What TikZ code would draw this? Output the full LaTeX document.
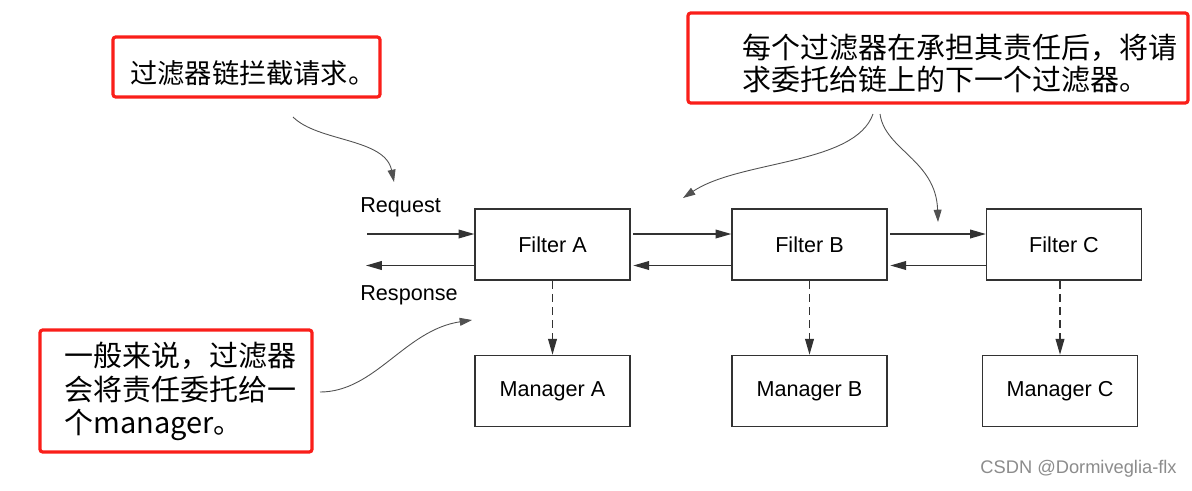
\documentclass[tikz,border=0pt]{standalone}
\usepackage{fontspec}
\setmainfont{Liberation Sans}
\newfontfamily\cjk{Noto Sans CJK SC}
\usetikzlibrary{arrows.meta, positioning}

\definecolor{notered}{RGB}{250,30,25}
\definecolor{boxgray}{RGB}{50,50,50}

\tikzset{
	filterbox/.style={draw=boxgray, line width=0.8pt, minimum width=3.1cm, minimum height=1.42cm, font=\fontsize{12.3pt}{14pt}\selectfont},
	notebox/.style={draw=notered, line width=1.8pt, rounded corners=1.5pt},
	notetext/.style={anchor=west, align=left, inner sep=0pt},
	flow/.style={line width=0.7pt, draw=boxgray, -{Triangle[length=9pt,width=5pt]}},
	delegate/.style={flow, dash pattern=on 4.5pt off 3pt},
	remark/.style={line width=0.5pt, draw=boxgray!85, -{Triangle[length=7pt,width=4.5pt]}},
}

\begin{document}
\begin{tikzpicture}[x=0.02cm, y=-0.02cm]
	\fill[white] (0,0) rectangle (1192,490);
	\useasboundingbox (0,0) rectangle (1192,490);

	% filters and managers
	\node[filterbox] (fa) at (552.5,244.5) {Filter A};
	\node[filterbox] (fb) at (809.5,244.5) {Filter B};
	\node[filterbox] (fc) at (1064,244.5) {Filter C};
	\node[filterbox, below=1.48cm of fa] (ma) {Manager A};
	\node[filterbox, below=1.48cm of fb] (mb) {Manager B};
	\node[filterbox, below=1.48cm of fc, xshift=-0.08cm] (mc) {Manager C};

	% request / response
	\node[anchor=base west, inner sep=0pt, font=\fontsize{12.3pt}{14pt}\selectfont] (reqlabel) at (360,212) {Request};
	\node[anchor=base west, inner sep=0pt, font=\fontsize{12.3pt}{14pt}\selectfont] (reslabel) at (360,300) {Response};
	\coordinate (reqin) at (367,234);
	\coordinate (resout) at (366,265.5);
	\draw[flow] (reqin) -- (reqin -| fa.west);
	\draw[flow] (resout -| fa.west) -- (resout);

	\draw[flow, shorten <=1.5pt] ([yshift=0.21cm]fa.east) -- ([yshift=0.21cm]fb.west);
	\draw[flow, shorten >=1.5pt] ([yshift=-0.42cm]fb.west) -- ([yshift=-0.42cm]fa.east);
	\draw[flow, shorten <=1.5pt] ([yshift=0.21cm]fb.east) -- ([yshift=0.21cm]fc.west);
	\draw[flow, shorten >=1.5pt] ([yshift=-0.42cm]fc.west) -- ([yshift=-0.42cm]fb.east);

	\draw[delegate] (fa.south -| ma.north) -- (ma.north);
	\draw[delegate] (fb.south -| mb.north) -- (mb.north);
	\draw[delegate] (fc.south -| mc.north) -- (mc.north);

	% notes
	\node[notebox, minimum width=5.34cm, minimum height=1.2cm] (note1) at (246.5,67) {};
	\node[notetext, font=\cjk\fontsize{15.5pt}{18.7pt}\selectfont] (text1) at (130,73) {过滤器链拦截请求。};

	\node[notebox, minimum width=10cm, minimum height=1.8cm] (note2) at (938,58) {};
	\node[notetext, font=\cjk\fontsize{16.5pt}{18.7pt}\selectfont] (text2) at (742,63.5) {每个过滤器在承担其责任后，将请\\求委托给链上的下一个过滤器。};

	\node[notebox, minimum width=5.44cm, minimum height=2.44cm] (note3) at (176,391) {};
	\node[notetext, font=\cjk\fontsize{16.5pt}{18.9pt}\selectfont] (text3) at (64,391.5) {一般来说，过滤器\\会将责任委托给一\\个manager。};

	\coordinate (c1s) at (293,117);
	\coordinate (c1e) at (394,182);
	\coordinate (c2s) at (873,114);
	\coordinate (c2e) at (683,198);
	\coordinate (c3s) at (880,114);
	\coordinate (c3e) at (938,222);
	\coordinate (c4s) at (320,392);
	\coordinate (c4e) at (472,320);
	\draw[remark] (c1s) .. controls (318,142) and (385,138) .. (c1e);
	\draw[remark] (c2s) .. controls (855,165) and (740,160) .. (c2e);
	\draw[remark] (c3s) .. controls (885,150) and (936,160) .. (c3e);
	\draw[remark] (c4s) .. controls (375,392) and (405,330) .. (c4e);

	\node[anchor=east, inner sep=0pt, text=black!45, font=\fontsize{10.4pt}{12pt}\selectfont] (mark) at (1177,469) {CSDN @Dormiveglia-flx};
\end{tikzpicture}
\end{document}
